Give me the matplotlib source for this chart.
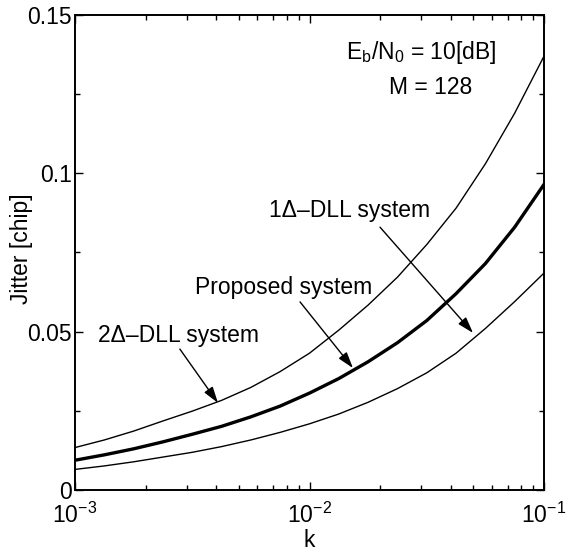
import numpy as np
import matplotlib
matplotlib.use('Agg')
import matplotlib.pyplot as plt
from matplotlib.ticker import FixedLocator, FixedFormatter, LogLocator

plt.rcParams['font.family'] = ['Liberation Sans', 'DejaVu Sans']
plt.rcParams['mathtext.fontset'] = 'custom'
plt.rcParams['mathtext.rm'] = 'Liberation Sans'
plt.rcParams['mathtext.it'] = 'Liberation Sans:italic'
plt.rcParams['mathtext.bf'] = 'Liberation Sans:bold'

# k values, every eighth of a decade from 1e-3 to 1e-1
k = [1.000e-3, 1.334e-3, 1.778e-3, 2.371e-3, 3.162e-3, 4.217e-3, 5.623e-3, 7.499e-3,
     1.000e-2, 1.334e-2, 1.778e-2, 2.371e-2, 3.162e-2, 4.217e-2, 5.623e-2, 7.499e-2,
     1.000e-1]

# jitter [chip]
jitter_2delta = [0.0134, 0.0158, 0.0186, 0.0218, 0.0249, 0.0283, 0.0324, 0.0374,
                 0.0432, 0.0505, 0.0584, 0.0672, 0.0775, 0.0890, 0.1030, 0.1190,
                 0.1370]
jitter_proposed = [0.0094, 0.0111, 0.0130, 0.0152, 0.0176, 0.0201, 0.0231, 0.0265,
                   0.0306, 0.0352, 0.0405, 0.0465, 0.0535, 0.0620, 0.0715, 0.0830,
                   0.0965]
jitter_1delta = [0.0065, 0.0076, 0.0089, 0.0104, 0.0119, 0.0137, 0.0158, 0.0182,
                 0.0209, 0.0240, 0.0277, 0.0320, 0.0370, 0.0432, 0.0510, 0.0595,
                 0.0685]

FS = 16.5

fig = plt.figure(figsize=(5.73, 5.57), dpi=100)
ax = fig.add_axes([0.1309, 0.1203, 0.8185, 0.8528])

ax.plot(k, jitter_2delta, color='black', linewidth=1.0)
ax.plot(k, jitter_proposed, color='black', linewidth=2.4)
ax.plot(k, jitter_1delta, color='black', linewidth=1.0)

ax.set_xscale('log')
ax.set_xlim(1e-3, 1e-1)
ax.set_ylim(0, 0.15)

ax.yaxis.set_major_locator(FixedLocator([0, 0.05, 0.1, 0.15]))
ax.yaxis.set_major_formatter(FixedFormatter(['0', '0.05', '0.1', '0.15']))
ax.yaxis.set_minor_locator(FixedLocator([0.025, 0.075, 0.125]))
ax.xaxis.set_minor_locator(LogLocator(base=10, subs=np.arange(2, 10)))

ax.tick_params(which='both', direction='in', top=True, right=True,
               labelsize=FS, width=1.0)
ax.tick_params(axis='y', pad=2)
ax.tick_params(axis='x', pad=9)
ax.tick_params(which='major', length=6)
ax.tick_params(which='minor', length=3.5)
for s in ax.spines.values():
    s.set_linewidth(1.4)

ax.set_xlabel('k', fontsize=FS, labelpad=1)
ax.set_ylabel('Jitter [chip]', fontsize=FS)
ax.yaxis.set_label_coords(-0.09, 0.508)

ax.text(0.0299, 0.1383, r'E$_\mathrm{b}$/N$_0$ = 10[dB]', fontsize=FS,
        ha='center', va='center')
ax.text(0.0327, 0.127, 'M = 128', fontsize=FS, ha='center', va='center')

ax.text(0.00275, 0.0489, '2Δ\u2013DLL system', fontsize=FS, ha='center', va='center')
ax.text(0.00772, 0.0641, 'Proposed system', fontsize=FS, ha='center', va='center')
ax.text(0.01489, 0.0884, '1Δ\u2013DLL system', fontsize=FS, ha='center', va='center')

arrow = dict(arrowstyle='-|>,head_length=0.7,head_width=0.22', color='black',
             lw=1.0, mutation_scale=14, shrinkA=0, shrinkB=0)
ax.annotate('', xy=(0.00407, 0.0275), xytext=(0.00280, 0.0445), arrowprops=arrow)
ax.annotate('', xy=(0.01532, 0.0385), xytext=(0.00911, 0.0594), arrowprops=arrow)
ax.annotate('', xy=(0.0498, 0.0496), xytext=(0.01998, 0.0830), arrowprops=arrow)

fig.savefig('out.png', dpi=100)
